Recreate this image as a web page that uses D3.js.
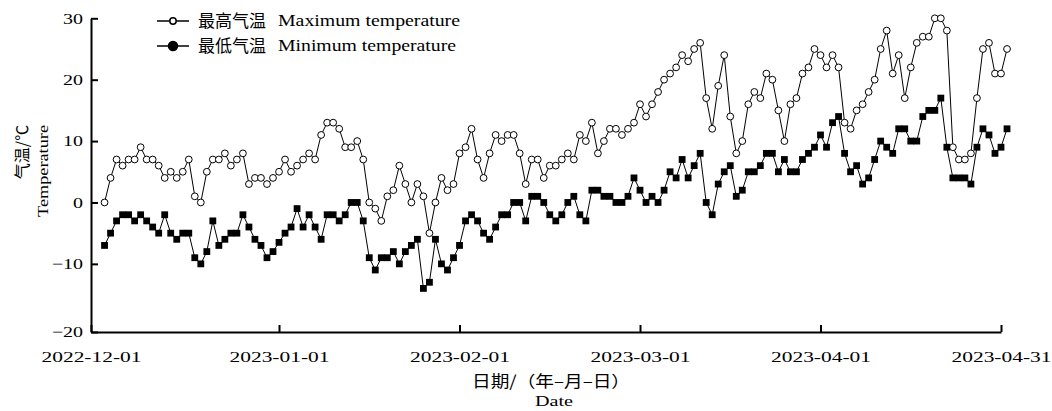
<!DOCTYPE html>
<html><head><meta charset="utf-8">
<script src="https://cdn.jsdelivr.net/npm/d3@7"></script>
<style>
body{margin:0;background:#fff}
svg text{font-family:"Liberation Serif","Times New Roman",serif;fill:#000}
svg .cjk{font-family:"Noto Sans CJK SC",sans-serif;fill:#000}
</style>
</head><body>
<svg id="c" width="1052" height="411"></svg>
<script>
// Daily maximum temperature (°C), 2022-12-01 .. 2023-04-30
const maxTemp = [
  0,4,7,6,7,7,9,7,7,6,4,5,4,5,7,1,0,5,7,7,8,6,7,8,3,4,4,3,4,5,7,
  5,6,7,8,7,11,13,13,12,9,9,10,7,0,-1,-3,1,2,6,3,0,3,1,-5,0,4,2,3,8,9,12,
  7,4,8,11,10,11,11,8,3,7,7,4,6,6,7,8,7,11,10,13,8,10,12,12,11,12,
  13,16,14,16,18,20,21,22,24,23,25,26,17,12,19,24,14,8,10,16,18,17,21,20,15,10,16,17,21,22,25,24,22,
  24,22,13,12,15,16,18,20,25,28,21,24,17,22,26,27,27,30,30,28,9,7,7,8,17,25,26,21,21,25
];
// Daily minimum temperature (°C)
const minTemp = [
  -7,-5,-3,-2,-2,-3,-2,-3,-4,-5,-2,-5,-6,-5,-5,-9,-10,-8,-3,-7,-6,-5,-5,-2,-4,-6,-7,-9,-8,-6.5,-5,
  -4,-1,-4,-2,-4,-6,-2,-2,-3,-2,0,0,-3,-9,-11,-9,-9,-8,-10,-8,-7,-6,-14,-13,-6,-10,-11,-9,-7,-3,-2,
  -3,-5,-6,-4,-2,-2,0,0,-3,1,1,0,-2,-3,-2,0,1,-2,-3,2,2,1,1,0,0,1,
  4,2,0,1,0,2,5,4,7,4,6,8,0,-2,3,5,6,1,2,5,5,6,8,8,5,7,5,5,7,8,9,11,9,
  13,14,8,5,6,3,4,7,10,9,8,12,12,10,10,14,15,15,17,9,4,4,4,3,9,12,11,8,9,12
];
const dates = d3.timeDay.range(new Date(2022,11,1), new Date(2023,4,1));
const tickDays = [-1.25, 30, 60, 90, 120, 150];
const tickLabels = ["2022-12-01","2023-01-01","2023-02-01","2023-03-01","2023-04-01","2023-04-31"];
const yTicks = [-21.1, -10, 0, 10, 20, 30];
const yTickLabels = ["\u221220","\u221210","0","10","20","30"];
const seriesNames = [["最高气温","Maximum temperature"],["最低气温","Minimum temperature"]];

const svg = d3.select("#c");
const x = d3.scaleLinear().domain([-1.25,150]).range([91,1001]);
const y = d3.scaleLinear().domain([-21.1,30]).range([332,18.3]);

function stretch(sel, k){
  sel.each(function(){
    const w = this.getComputedTextLength();
    this.setAttribute("textLength", w*k);
    this.setAttribute("lengthAdjust","spacingAndGlyphs");
  });
}

// axes
const gx = svg.append("g").attr("transform","translate(0,332)")
  .call(d3.axisBottom(x).tickValues(tickDays).tickFormat((d,i)=>tickLabels[i])
    .tickSizeInner(-7).tickSizeOuter(0).tickPadding(19));
const gy = svg.append("g").attr("transform","translate(91,0)")
  .call(d3.axisLeft(y).tickValues(yTicks).tickFormat((d,i)=>yTickLabels[i])
    .tickSizeInner(-7).tickSizeOuter(0).tickPadding(8));
[gx,gy].forEach(g=>{
  g.select(".domain").attr("stroke","#000").attr("stroke-width",2);
  g.selectAll(".tick line").attr("stroke","#000").attr("stroke-width",2);
  g.selectAll("text").attr("font-family",null).style("font-size","15px").attr("fill","#000");
});
gx.selectAll("text").each(function(){ this.setAttribute("textLength",100); this.setAttribute("lengthAdjust","spacingAndGlyphs"); });
stretch(gy.selectAll("text"), 1.33);

// lines
const line = d3.line().x((d,i)=>x(i+1)).y(d=>y(d));
svg.append("path").datum(maxTemp).attr("d",line).attr("fill","none").attr("stroke","#000").attr("stroke-width",1);
svg.append("path").datum(minTemp).attr("d",line).attr("fill","none").attr("stroke","#000").attr("stroke-width",1);

// markers
svg.append("g").selectAll("circle").data(maxTemp).join("circle")
  .attr("cx",(d,i)=>x(i+1)).attr("cy",d=>y(d)).attr("r",3.4)
  .attr("fill","#fff").attr("stroke","#000").attr("stroke-width",1);
const s = 6.8;
svg.append("g").selectAll("rect").data(minTemp).join("rect")
  .attr("x",(d,i)=>x(i+1)-s/2).attr("y",d=>y(d)-s/2).attr("width",s).attr("height",s)
  .attr("fill","#000");

// legend
const leg = svg.append("g");
[21,46].forEach((ly,k)=>{
  leg.append("line").attr("x1",157).attr("x2",189).attr("y1",ly).attr("y2",ly).attr("stroke","#000").attr("stroke-width",1.5);
  leg.append("circle").attr("cx",173).attr("cy",ly).attr("r",k===0?3.2:4.5)
    .attr("fill",k===0?"#fff":"#000").attr("stroke","#000").attr("stroke-width",1.5);
  leg.append("text").attr("class","cjk").attr("fill","#000").attr("x",198).attr("y",ly).attr("dy","0.36em")
    .style("font-size","17px").text(seriesNames[k][0]);
  const t = leg.append("text").attr("x",278).attr("y",ly).attr("dy","0.34em")
    .style("font-size","16px").text(seriesNames[k][1]);
  t.attr("textLength", k===0?182:178).attr("lengthAdjust","spacingAndGlyphs");
});

// axis titles (rotated CJK drawn inside a group with opacity to force grayscale antialiasing)
svg.append("g").attr("opacity",0.999).append("text").attr("class","cjk")
  .attr("transform","translate(22,152) rotate(-90)")
  .attr("text-anchor","middle").attr("dy","0.35em").style("font-size","16px").text("气温/℃");
const tt = svg.append("text").attr("transform","translate(43,171) rotate(-90)")
  .attr("text-anchor","middle").attr("dy","0.35em").style("font-size","15px").text("Temperature");
tt.attr("textLength",92).attr("lengthAdjust","spacingAndGlyphs");
svg.append("text").attr("class","cjk").attr("x",551).attr("y",381).attr("dy","0.35em")
  .attr("text-anchor","middle").style("font-size","16px")
  .attr("textLength",158).attr("lengthAdjust","spacingAndGlyphs").text("日期/（年–月–日）");
svg.append("text").attr("x",554).attr("y",401).attr("dy","0.32em")
  .attr("text-anchor","middle").style("font-size","15px")
  .attr("textLength",38).attr("lengthAdjust","spacingAndGlyphs").text("Date");
</script>
</body></html>
